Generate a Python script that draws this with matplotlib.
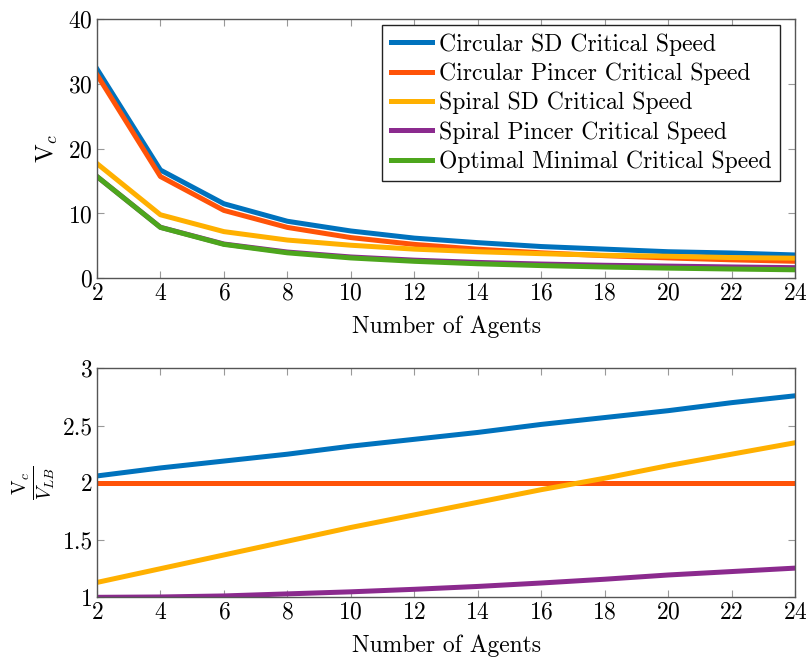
import matplotlib
matplotlib.use("Agg")
import matplotlib.pyplot as plt

plt.rcParams['font.family'] = 'serif'
plt.rcParams['font.serif'] = ['cmr10']
plt.rcParams['mathtext.fontset'] = 'cm'
plt.rcParams['axes.formatter.use_mathtext'] = True

agents = [2, 4, 6, 8, 10, 12, 14, 16, 18, 20, 22, 24]

# critical speeds (top panel)
circ_sd = [32.3, 16.7, 11.5, 8.8, 7.3, 6.2, 5.5, 4.9, 4.5, 4.1, 3.9, 3.6]
circ_pincer = [31.4, 15.7, 10.47, 7.85, 6.28, 5.23, 4.49, 3.93, 3.49, 3.14, 2.85, 2.62]
spiral_sd = [17.7, 9.8, 7.2, 5.9, 5.1, 4.5, 4.1, 3.8, 3.55, 3.4, 3.2, 3.1]
spiral_pincer = [15.7, 7.87, 5.29, 4.05, 3.29, 2.80, 2.45, 2.20, 2.01, 1.88, 1.75, 1.64]
optimal = [15.7, 7.85, 5.23, 3.93, 3.14, 2.62, 2.24, 1.96, 1.74, 1.57, 1.43, 1.31]

# ratios to lower bound (bottom panel)
ratio_circ_sd = [2.06, 2.13, 2.19, 2.25, 2.32, 2.38, 2.44, 2.51, 2.57, 2.63, 2.70, 2.76]
ratio_circ_pincer = [2.0] * 12
ratio_spiral_sd = [1.13, 1.25, 1.37, 1.49, 1.61, 1.72, 1.83, 1.94, 2.04, 2.15, 2.25, 2.35]
ratio_spiral_pincer = [1.0, 1.003, 1.012, 1.03, 1.048, 1.07, 1.095, 1.125, 1.158, 1.195, 1.225, 1.255]

labels = ["Circular SD Critical Speed", "Circular Pincer Critical Speed",
          "Spiral SD Critical Speed", "Spiral Pincer Critical Speed",
          "Optimal Minimal Critical Speed"]
colors = ['#0072BD', '#FF5308', '#FFB000', '#8B2A8E', '#4DA61D']
lw = 3.6

fig = plt.figure(figsize=(8.06, 6.59), dpi=100)
ax1 = fig.add_axes([0.1203, 0.5777, 0.8661, 0.3935])
ax2 = fig.add_axes([0.1203, 0.0936, 0.8661, 0.3475])

top = [circ_sd, circ_pincer, spiral_sd, spiral_pincer, optimal]
for vals, c, lab in zip(top, colors, labels):
    ax1.plot(agents, vals, color=c, lw=lw, label=lab)

bottom = [ratio_circ_sd, ratio_circ_pincer, ratio_spiral_sd, ratio_spiral_pincer]
for vals, c in zip(bottom, colors):
    ax2.plot(agents, vals, color=c, lw=lw)

ax1.set_ylim(0, 40)
ax1.set_yticks([0, 10, 20, 30, 40])
ax2.set_ylim(1, 3)
ax2.set_yticks([1, 1.5, 2, 2.5, 3])
ax2.set_yticklabels(['1', '1.5', '2', '2.5', '3'])

for ax in (ax1, ax2):
    ax.set_xlim(2, 24)
    ax.set_xticks(agents)
    ax.set_xlabel("Number of Agents", fontsize=17, labelpad=8)
    ax.tick_params(direction='in', top=True, right=True, length=5,
                   color='#999999', labelsize=17, pad=3)
    for s in ax.spines.values():
        s.set_color('#555555')
        s.set_linewidth(1.0)

ax1.set_ylabel(r"$\mathrm{V}_c$", fontsize=18, labelpad=6)
ax2.set_ylabel(r"$\frac{\mathrm{V}_c}{V_{LB}}$", fontsize=20, labelpad=4)

leg = ax1.legend(loc='upper right', bbox_to_anchor=(0.9785, 0.977),
                 fontsize=17, frameon=True, fancybox=False, framealpha=1,
                 edgecolor='#222222', handlelength=1.75, borderpad=0.35,
                 labelspacing=0.29, handletextpad=0.3, borderaxespad=0)
leg.get_frame().set_linewidth(1.0)

fig.savefig("out.png", dpi=100)
